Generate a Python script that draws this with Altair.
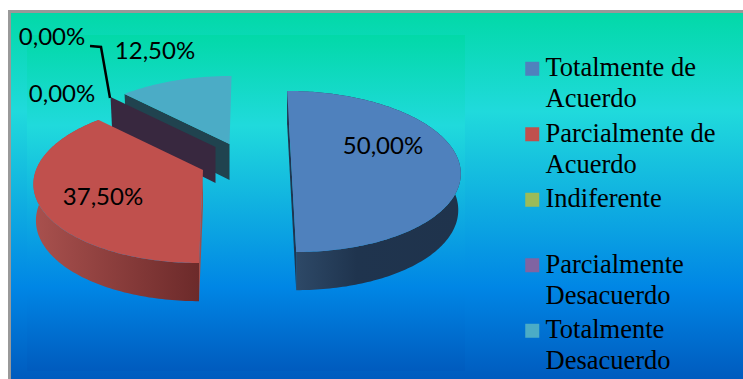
import math
import altair as alt

# Survey answers and their share of respondents (percent)
categories = ["Totalmente de Acuerdo", "Parcialmente de Acuerdo", "Indiferente",
              "Parcialmente Desacuerdo", "Totalmente Desacuerdo"]
shares = [50.0, 37.5, 0.0, 0.0, 12.5]
colors = ["#4F81BD", "#C0504D", "#9BBB59", "#8064A2", "#4BACC6"]

# Pixel placement of the printed percentages, in category order
label_px = [(383, 147), (103, 198), (62, 95), (52, 38), (155, 52)]

# Exploded wedge tips and the lean of each wedge's local axis
tips = {0: (291, 159), 1: (203, 170), 3: (215.5, 147), 4: (229.5, 144)}
lean = {0: 0.056, 1: -0.043, 3: -0.03, 4: -0.03}
cut_face = {3: "#38283F", 4: "#20434F"}

# Perspective disc: half-width, half-depth, foreshortening, extrusion height
RX, RY, PERSP, THICK = 167.0, 78.6, 0.155, 36.0

bands = [(0.0, "#02D9A8"), (0.27, "#20DADC"), (0.75, "#0086E5"), (1.0, "#005BBE")]
backdrop = alt.LinearGradient(
    gradient="linear", x1=0, x2=0, y1=0, y2=1,
    stops=[alt.GradientStop(offset=o, color=c) for o, c in bands],
)


def rim(i, deg, drop=False):
    t = math.radians(deg)
    u, v = math.sin(t), math.cos(t)
    den = 1 + PERSP * v
    dy = -RY * v / den
    spread = RX * u / den
    if drop:
        spread *= 0.985
    x = tips[i][0] + spread + lean[i] * dy
    y = tips[i][1] + dy
    if drop:
        y += THICK * (1 - 0.06 * v)
    return [x, y]


def feature(ring, **props):
    return {"type": "Feature", "properties": props,
            "geometry": {"type": "Polygon", "coordinates": [ring + [ring[0]]]}}


# Wedge angles accumulate clockwise from twelve o'clock
starts, total = [], 0.0
for s in shares:
    starts.append(total)
    total += s * 3.6


def arc_angles(i):
    n = max(int(shares[i] * 3.6), 1)
    return [starts[i] + shares[i] * 3.6 * k / n for k in range(n + 1)]


def top_ring(i):
    return [list(tips[i])] + [rim(i, a) for a in arc_angles(i)]


def side_ring(i):
    a = arc_angles(i)
    return [rim(i, x) for x in a] + [rim(i, x, True) for x in reversed(a)]


def wall(i, deg, fill):
    tip = list(tips[i])
    low = [tip[0], tip[1] + THICK]
    return feature([tip, rim(i, deg), rim(i, deg, True), low], fill=fill)


identity = dict(type="identity", scale=1, translate=[0, 0])


def shapes(features):
    return alt.Data(values=features)


def side_fill(*stops):
    return alt.LinearGradient(
        gradient="linear", x1=0, x2=1, y1=0, y2=0,
        stops=[alt.GradientStop(offset=o, color=c) for o, c in stops],
    )


def panel(x0, x1, y0, y1, fill):
    return alt.Chart(alt.Data(values=[{"k": 0}])).mark_rect(fill=fill).encode(
        x=alt.value(x0), x2=alt.value(x1), y=alt.value(y0), y2=alt.value(y1))


walls_back = [wall(4, starts[4], cut_face[4]), wall(3, starts[3], cut_face[3])]
walls_front = [wall(0, 0, "#1F3550"), wall(0, 180, "#1F3550"), wall(1, 180, "#A04F4C")]

walls_layer = alt.Chart(shapes(walls_back)).mark_geoshape(stroke=None).encode(
    fill=alt.Fill("properties.fill:N", scale=None)).project(**identity)
front_layer = alt.Chart(shapes(walls_front)).mark_geoshape(stroke=None).encode(
    fill=alt.Fill("properties.fill:N", scale=None)).project(**identity)

blue_side = alt.Chart(shapes([feature(side_ring(0))])).mark_geoshape(
    stroke=None, fill=side_fill((0, "#304C6B"), (0.4, "#1F344E"), (1, "#1F334C"))).project(**identity)
red_side = alt.Chart(shapes([feature(side_ring(1))])).mark_geoshape(
    stroke=None, fill=side_fill((0, "#A9514E"), (1, "#6C2A2A"))).project(**identity)

# Symbols sit on the first line of each wrapped label
first_line_square = "M-1,-2.07H1V-0.07H-1Z"

tops = [feature(top_ring(i), answer=categories[i]) for i in (4, 1, 0)]
top_layer = alt.Chart(shapes(tops)).mark_geoshape(stroke=None).encode(
    color=alt.Color(
        "properties.answer:N",
        scale=alt.Scale(domain=categories, range=colors),
        legend=alt.Legend(
            title=None, orient="none", legendX=519, legendY=63, padding=0,
            symbolType=first_line_square, symbolSize=196, symbolStrokeWidth=0, symbolOpacity=1,
            labelFont="Liberation Serif", labelFontSize=26.5, labelColor="black",
            labelLimit=220, labelOffset=0, rowPadding=7.5, labelBaseline="alphabetic",
            labelExpr="split(replace(replace(datum.label, / (?=Acuerdo|Desacuerdo)/, '|'), 'Indiferente', 'Indiferente| '), '|')",
        ),
    )
).project(**identity)

label_rows = [
    {"text": f"{s:.2f}".replace(".", ",") + "%", "px": p[0], "py": p[1]}
    for s, p in zip(shares, label_px)
]
labels = alt.Chart(alt.Data(values=label_rows)).mark_text(
    font="Lato", fontSize=24, color="black", align="center", baseline="middle"
).encode(
    x=alt.X("px:Q", scale=None, axis=None),
    y=alt.Y("py:Q", scale=None, axis=None),
    text="text:N",
)

# Leader from the upper zero label to its wedge
leader_rows = [{"px": 90, "py": 46, "n": 0}, {"px": 101, "py": 47, "n": 1}, {"px": 110, "py": 98, "n": 2}]
leader = alt.Chart(alt.Data(values=leader_rows)).mark_line(color="black", strokeWidth=2.5).encode(
    x=alt.X("px:Q", scale=None, axis=None),
    y=alt.Y("py:Q", scale=None, axis=None),
    order="n:Q",
)

chart = alt.layer(
    panel(8, 743, 10, 379, "#999999"), panel(11, 743, 13, 379, backdrop), panel(27, 465, 35, 371, backdrop),
    walls_layer, blue_side, red_side, front_layer, top_layer, leader, labels,
).properties(
    width=743, height=379, padding=0,
    autosize=alt.AutoSizeParams(type="none"), background="white",
).configure_view(stroke=None)
chart.config.style = {"guide-label": {"lineHeight": 31}}

chart.save("out.html", embed_options={"renderer": "svg", "actions": False})
